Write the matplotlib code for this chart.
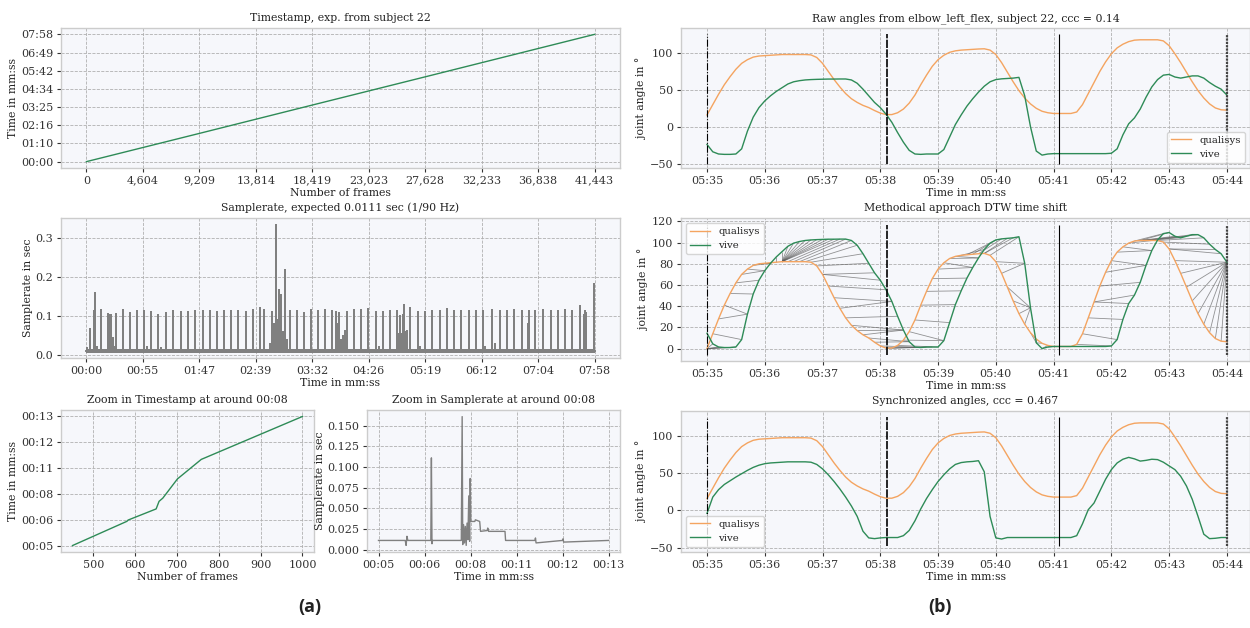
import numpy as np
import matplotlib
matplotlib.use("Agg")
import matplotlib.pyplot as plt
from matplotlib.collections import LineCollection

# ---------------------------------------------------------------- data
# Overall timestamp vs frame index
frame_idx = [0, 9209, 18419, 27628, 41443]
frame_time = [0.0, 106.0, 212.5, 318.5, 478.0]
frame_ticks = ["0", "4,604", "9,209", "13,814", "18,419", "23,023",
               "27,628", "32,233", "36,838", "41,443"]
clock_ticks = ["00:00", "01:10", "02:16", "03:25", "04:34", "05:42",
               "06:49", "07:58"]
rate_ticks = ["00:00", "00:55", "01:47", "02:39", "03:32", "04:26",
              "05:19", "06:12", "07:04", "07:58"]

# Sample interval: nominal level and spikes (time in s, interval in s)
rate_base = 0.011
rate_jitter_low, rate_jitter_high = 0.006, 0.017
spike_time = [0.4, 2.96, 6.67, 7.78, 8.52, 9.6, 13.7, 20.4, 21.9, 23.3, 25.2,
              26.3, 27.8, 34.5, 41.1, 47.4, 54.5, 57.1, 61.1, 67.8, 70.4,
              74.8, 81.9, 88.9, 95.2, 102.3, 109.3, 116.0, 122.6, 129.7,
              136.0, 143.0, 150.1, 156.4, 163.4, 167.1, 172.3, 174.5, 176.4,
              177.5, 178.6, 179.7, 180.8, 181.6, 182.7, 183.4, 184.5, 185.6,
              187.1, 188.6, 191.2, 197.9, 204.2, 211.2, 218.2, 224.5, 230.8,
              234.5, 236.0, 237.9, 239.0, 241.2, 243.4, 244.9, 251.9, 258.6,
              265.3, 272.3, 275.3, 278.6, 285.3, 292.0, 293.4, 295.3, 296.4,
              297.9, 299.0, 300.5, 302.0, 304.6, 312.0, 313.8, 318.6, 325.3,
              332.3, 339.0, 345.7, 352.4, 359.4, 366.1, 373.1, 375.0, 381.6,
              384.2, 389.0, 395.7, 402.0, 409.4, 415.0, 416.1, 422.4, 429.8,
              437.2, 443.9, 450.2, 456.8, 464.3, 467.6, 468.7, 470.2, 477.8]
spike_height = [0.018, 0.068, 0.113, 0.160, 0.087, 0.020, 0.115, 0.105, 0.103,
                0.103, 0.045, 0.022, 0.106, 0.116, 0.107, 0.114, 0.113, 0.020,
                0.111, 0.104, 0.018, 0.108, 0.114, 0.111, 0.111, 0.113, 0.114,
                0.114, 0.111, 0.114, 0.113, 0.114, 0.111, 0.115, 0.120, 0.117,
                0.030, 0.110, 0.080, 0.030, 0.334, 0.090, 0.050, 0.168, 0.155,
                0.117, 0.060, 0.050, 0.217, 0.040, 0.114, 0.113, 0.109, 0.117,
                0.113, 0.116, 0.112, 0.110, 0.080, 0.108, 0.040, 0.050, 0.061,
                0.110, 0.115, 0.115, 0.118, 0.110, 0.020, 0.110, 0.112, 0.113,
                0.055, 0.100, 0.055, 0.104, 0.128, 0.060, 0.062, 0.120, 0.110,
                0.020, 0.111, 0.112, 0.114, 0.118, 0.114, 0.114, 0.112, 0.112,
                0.114, 0.020, 0.116, 0.030, 0.113, 0.114, 0.116, 0.113, 0.080,
                0.114, 0.113, 0.116, 0.113, 0.114, 0.115, 0.113, 0.125, 0.103,
                0.113, 0.108, 0.182]

# Close-up around 00:08
zoom_frames = [450, 580, 583, 650, 657, 666, 701, 758, 1000]
zoom_clock = [5.0, 6.50, 6.58, 7.27, 7.74, 7.94, 9.13, 10.34, 13.0]
zoom_ticks = ["00:05", "00:06", "00:08", "00:11", "00:12", "00:13"]
zoom_time = [5.0, 5.93, 5.96, 5.99, 6.02, 6.82, 6.84, 6.86, 6.88, 7.88, 7.91,
             7.93, 7.96, 7.99, 8.02, 8.05, 8.08, 8.11, 8.14, 8.17, 8.19, 8.21,
             8.35, 8.37, 8.52, 8.55, 8.78, 8.80, 8.83, 9.40, 9.42, 10.44,
             10.46, 10.48, 11.40, 11.42, 11.44, 13.0]
zoom_rate = [0.011, 0.011, 0.005, 0.016, 0.011, 0.011, 0.111, 0.007, 0.011,
             0.011, 0.161, 0.006, 0.030, 0.008, 0.028, 0.005, 0.032, 0.012,
             0.065, 0.010, 0.086, 0.034, 0.034, 0.036, 0.034, 0.022, 0.023,
             0.026, 0.022, 0.022, 0.011, 0.011, 0.014, 0.008, 0.011, 0.013,
             0.009, 0.011]

# Elbow angle recordings, 10 Hz readout between 05:35 and 05:44
angle_time = np.round(np.arange(335.0, 344.05, 0.1), 1)
qualisys = [16, 30, 44, 57, 68, 78, 86, 91, 94.5, 96,
            96.5, 97, 97.5, 98, 98, 98, 98, 98, 97.5, 94,
            86, 75, 64, 54, 45, 38, 33, 29, 26, 22,
            18.5, 16.5, 16.5, 19, 24, 32, 43, 57, 70, 82,
            91, 97, 101, 103, 104, 104.5, 105, 105.5, 105.8, 104,
            98, 87, 74, 61, 49, 39, 31, 25, 21, 19,
            18, 18, 18, 18, 20, 30, 45, 60, 75, 88,
            99, 107, 112, 115.5, 117.5, 118, 118, 118, 118, 116.5,
            110, 99, 87, 74, 61, 49, 39, 31, 25.5, 23,
            22.5]
vive_raw = [-24, -34, -37, -37.5, -37.5, -37, -30, -6, 13, 26,
            35, 42, 48, 53, 58, 61, 62.5, 63.5, 64, 64.3,
            64.5, 64.7, 64.7, 64.8, 64.8, 63.5, 59, 51, 42, 33,
            26, 17, 6, -8, -21, -32, -37, -37.5, -37, -37,
            -37, -31, -14, 3, 16, 28, 38, 47, 55, 61,
            64, 65, 65.5, 66, 67, 42, 0, -33, -38.5, -37,
            -36.5, -36.5, -36.5, -36.5, -36.5, -36.5, -36.5, -36.5, -36.5, -36.5,
            -36, -30, -11, 4, 12, 24, 40, 54, 64, 70,
            71, 67.5, 66, 67.5, 69, 69, 66, 60, 55, 51,
            43]
vive_sync = [-4, 18, 28, 35, 40, 45, 49.5, 54, 58, 61,
             63, 64, 64.5, 65, 65.5, 65.5, 65.5, 65.5, 65, 62,
             56, 48, 39, 29, 18, 6, -8, -28, -37, -38,
             -37, -36.5, -36.5, -36.5, -34, -27, -14, 2, 16, 28,
             39, 48, 56, 62, 64.5, 65.5, 66, 67, 52, -8,
             -37, -38.5, -36.5, -36.5, -36.5, -36.5, -36.5, -36.5, -36.5, -36.5,
             -36.5, -36.5, -36.5, -36.5, -34, -18, 1, 10, 26, 42,
             55, 64, 69, 71.5, 69.5, 66.5, 67.5, 69, 68.5, 65,
             60, 55, 46, 33, 15, -8, -32, -38, -37.5, -36.5,
             -36.5]
angle_ticks = ["05:35", "05:36", "05:37", "05:38", "05:39", "05:40",
               "05:41", "05:42", "05:43", "05:44"]
segment_time = [335.0, 338.12, 341.1, 344.0]

# ---------------------------------------------------------------- style
plt.rcParams.update({
    "font.family": "DejaVu Serif",
    "font.size": 7.8,
    "axes.titlesize": 7.8,
    "axes.labelsize": 7.8,
    "axes.labelpad": 2.0,
    "axes.titlepad": 5.0,
    "xtick.labelsize": 8,
    "ytick.labelsize": 8,
    "xtick.major.pad": 2.5,
    "ytick.major.pad": 2.5,
    "legend.fontsize": 7.3,
    "axes.facecolor": "#f6f7fb",
    "axes.edgecolor": "#cccccc",
    "axes.linewidth": 1.0,
    "axes.grid": True,
    "axes.axisbelow": True,
    "grid.color": "#b0b0b0",
    "grid.linestyle": "--",
    "grid.linewidth": 0.6,
    "xtick.major.size": 3,
    "ytick.major.size": 3,
    "xtick.major.width": 0.8,
    "ytick.major.width": 0.8,
    "xtick.color": "#333333",
    "ytick.color": "#333333",
    "text.color": "#222222",
    "axes.labelcolor": "#222222",
})

C_Q = "#f4a460"
C_V = "#2e8b57"
C_R = "#808080"

W, H = 1250, 628
fig = plt.figure(figsize=(W / 100, H / 100), dpi=100)


def axes_px(x0, y0, x1, y1):
    return fig.add_axes([x0 / W, 1 - y1 / H, (x1 - x0) / W, (y1 - y0) / H])


# ---------------------------------------------------------------- (a) top
ax1 = axes_px(61, 28, 620, 168)
ax1.plot(frame_idx, frame_time, color=C_V, lw=1.0)
ax1.set_xticks(np.linspace(frame_idx[0], frame_idx[-1], len(frame_ticks)))
ax1.set_xticklabels(frame_ticks)
ax1.set_yticks(np.linspace(frame_time[0], frame_time[-1], len(clock_ticks)))
ax1.set_yticklabels(clock_ticks)
ax1.set_title("Timestamp, exp. from subject 22")
ax1.set_xlabel("Number of frames")
ax1.set_ylabel("Time in mm:ss")

# ---------------------------------------------------------------- (a) middle
ax2 = axes_px(61, 218, 620, 358)
rx, ry = [0.0], [rate_base]
for t, h in zip(spike_time, spike_height):
    rx += [t, t, t]
    ry += [rate_base, h, rate_base]
rx.append(frame_time[-1])
ry.append(rate_base)
ax2.fill_between([0.0, frame_time[-1]], rate_jitter_low, rate_jitter_high,
                 color=C_R, lw=0)
ax2.plot(rx, ry, color=C_R, lw=1.4)
ax2.set_xlim(-23.9, 501.9)
ax2.set_ylim(-0.007, 0.351)
ax2.set_yticks([0.0, 0.1, 0.2, 0.3])
ax2.set_xticks(np.linspace(0, frame_time[-1], len(rate_ticks)))
ax2.set_xticklabels(rate_ticks)
ax2.set_title("Samplerate, expected 0.0111 sec (1/90 Hz)")
ax2.set_xlabel("Time in mm:ss")
ax2.set_ylabel("Samplerate in sec")

# ---------------------------------------------------------------- (a) bottom
ax3 = axes_px(61, 410, 314, 552)
ax3.plot(zoom_frames, zoom_clock, color=C_V, lw=1.0)
ax3.set_xticks([500, 600, 700, 800, 900, 1000])
ax3.set_yticks(np.linspace(zoom_clock[0], zoom_clock[-1], len(zoom_ticks)))
ax3.set_yticklabels(zoom_ticks)
ax3.set_title("Zoom in Timestamp at around 00:08")
ax3.set_xlabel("Number of frames")
ax3.set_ylabel("Time in mm:ss")

ax4 = axes_px(367, 410, 620, 552)
ax4.plot(zoom_time, zoom_rate, color=C_R, lw=1.0)
ax4.set_ylim(-0.003, 0.169)
ax4.set_yticks(np.arange(0, 0.151, 0.025))
ax4.yaxis.set_major_formatter(matplotlib.ticker.FormatStrFormatter("%.3f"))
ax4.set_xticks(np.linspace(zoom_time[0], zoom_time[-1], len(zoom_ticks)))
ax4.set_xticklabels(zoom_ticks)
ax4.set_title("Zoom in Samplerate at around 00:08")
ax4.set_xlabel("Time in mm:ss")
ax4.set_ylabel("Samplerate in sec")

# ---------------------------------------------------------------- (b)
seg_styles = [("-.", 0.8, "black"), ((0, (5, 0.8)), 1.2, "black"),
              ("-", 0.8, "black"), ((0, (1, 0.5)), 1.6, "#444444")]


def draw_segments(ax, lo, hi):
    for t, (ls, lw, c) in zip(segment_time, seg_styles):
        ax.vlines(t, lo, hi, colors=c, linestyles=ls, lw=lw, zorder=3)


def style_angle_axes(ax, title):
    ax.set_xlim(334.55, 344.4)
    ax.set_xticks(np.arange(335, 345))
    ax.set_xticklabels(angle_ticks)
    ax.set_title(title)
    ax.set_xlabel("Time in mm:ss")
    ax.set_ylabel("joint angle in °")


q = np.array(qualisys, float)
v = np.array(vive_raw, float)
vs = np.array(vive_sync, float)

ax5 = axes_px(681, 28, 1250, 168)
ax5.plot(angle_time, q, color=C_Q, lw=1.0, label="qualisys")
ax5.plot(angle_time, v, color=C_V, lw=1.0, label="vive")
draw_segments(ax5, -50, 126)
ax5.set_ylim(-56, 134)
ax5.set_yticks([-50, 0, 50, 100])
style_angle_axes(ax5, "Raw angles from elbow_left_flex, subject 22, ccc = 0.14")
ax5.legend(loc="lower right", frameon=True, facecolor="white",
           edgecolor="#cccccc", framealpha=0.8)

# DTW alignment of min-shifted signals
qn = q - q.min()
vn = v - v.min()
n, m = len(qn), len(vn)
cost = np.abs(qn[:, None] - vn[None, :])
acc = np.full((n + 1, m + 1), np.inf)
acc[0, 0] = 0.0
for i in range(1, n + 1):
    for j in range(1, m + 1):
        acc[i, j] = cost[i - 1, j - 1] + min(acc[i - 1, j - 1],
                                             acc[i - 1, j], acc[i, j - 1])
i, j = n, m
path = []
while i > 0 and j > 0:
    path.append((i - 1, j - 1))
    step = np.argmin([acc[i - 1, j - 1], acc[i - 1, j], acc[i, j - 1]])
    if step == 0:
        i, j = i - 1, j - 1
    elif step == 1:
        i -= 1
    else:
        j -= 1
segs = [[(angle_time[a], qn[a]), (angle_time[b], vn[b])] for a, b in path]

ax6 = axes_px(681, 218, 1250, 361)
ax6.add_collection(LineCollection(segs, colors="#5a5a5a", lw=0.6,
                                  alpha=0.65, zorder=1))
ax6.plot(angle_time, qn, color=C_Q, lw=1.0, label="qualisys", zorder=2)
ax6.plot(angle_time, vn, color=C_V, lw=1.0, label="vive", zorder=2)
draw_segments(ax6, -6, 117)
ax6.set_ylim(-11.7, 123.2)
ax6.set_yticks([0, 20, 40, 60, 80, 100, 120])
style_angle_axes(ax6, "Methodical approach DTW time shift")
ax6.legend(loc="upper left", frameon=True, facecolor="white",
           edgecolor="#cccccc", framealpha=0.8)

ax7 = axes_px(681, 411, 1250, 552)
ax7.plot(angle_time, q, color=C_Q, lw=1.0, label="qualisys")
ax7.plot(angle_time, vs, color=C_V, lw=1.0, label="vive")
draw_segments(ax7, -48, 126)
ax7.set_ylim(-56, 134)
ax7.set_yticks([-50, 0, 50, 100])
style_angle_axes(ax7, "Synchronized angles, ccc = 0.467")
ax7.legend(loc="lower left", frameon=True, facecolor="white",
           edgecolor="#cccccc", framealpha=0.8)

# ---------------------------------------------------------------- panel tags
fig.text(310 / W, 1 - 607 / H, "(a)", ha="center", va="center",
         fontsize=13, fontweight="bold", family=["Open Sans", "DejaVu Sans"])
fig.text(940 / W, 1 - 607 / H, "(b)", ha="center", va="center",
         fontsize=13, fontweight="bold", family=["Open Sans", "DejaVu Sans"])

fig.savefig("out.png", dpi=100)
